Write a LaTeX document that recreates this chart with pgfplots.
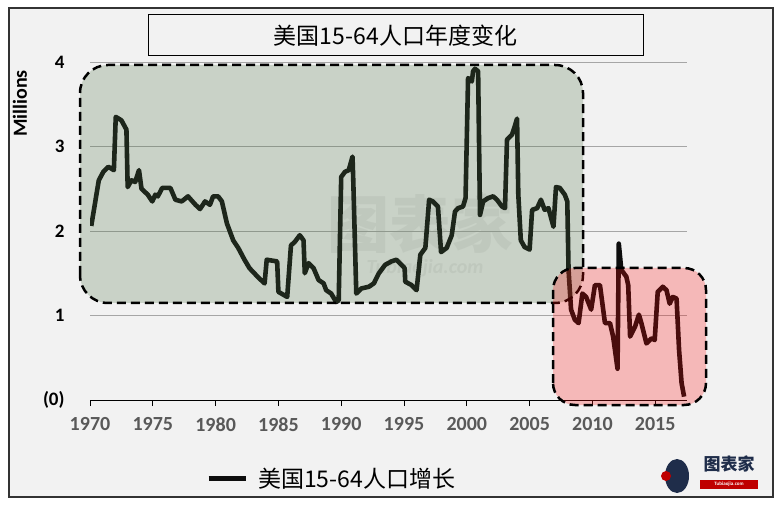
\documentclass[border=0pt]{standalone}
\usepackage{fontspec}
\setmainfont{Carlito}
\newfontfamily\cjk{Noto Sans CJK SC}
\usepackage{pgfplots}
\pgfplotsset{compat=1.18}
\definecolor{bggray}{HTML}{F2F2F2}
\definecolor{gridgray}{HTML}{A6A6A6}
\definecolor{boxgreen}{RGB}{80,115,72}
\definecolor{boxred}{RGB}{255,14,14}
\definecolor{ticklab}{HTML}{595959}
\definecolor{logoblue}{HTML}{1F2D4A}

% working-age population, annual change (millions)
\pgfplotstableread{
year val
1970.1 2.06
1970.7 2.60
1971.06 2.70
1971.46 2.76
1971.9 2.72
1972.05 3.35
1972.5 3.31
1972.9 3.20
1973.0 2.52
1973.3 2.60
1973.6 2.58
1973.9 2.72
1974.1 2.50
1974.6 2.43
1974.96 2.35
1975.2 2.43
1975.4 2.41
1975.75 2.51
1976.4 2.51
1976.8 2.37
1977.3 2.35
1977.8 2.41
1978.4 2.31
1978.76 2.26
1979.16 2.35
1979.55 2.31
1979.8 2.41
1980.2 2.41
1980.5 2.35
1980.9 2.09
1981.4 1.89
1981.8 1.80
1982.3 1.66
1982.7 1.56
1983.4 1.45
1983.9 1.38
1984.07 1.66
1984.9 1.64
1985.0 1.28
1985.7 1.22
1986.0 1.83
1986.3 1.87
1986.7 1.95
1987.0 1.89
1987.1 1.50
1987.4 1.62
1987.8 1.56
1988.2 1.42
1988.6 1.38
1988.8 1.30
1989.2 1.26
1989.6 1.16
1989.8 1.18
1990.0 2.64
1990.3 2.70
1990.6 2.72
1990.9 2.88
1990.96 2.60
1991.2 1.26
1991.6 1.32
1992.2 1.34
1992.6 1.38
1993.0 1.50
1993.5 1.60
1994.0 1.64
1994.4 1.66
1994.8 1.60
1995.05 1.56
1995.1 1.40
1995.6 1.36
1996.0 1.30
1996.3 1.72
1996.7 1.80
1997.0 2.37
1997.3 2.35
1997.7 2.29
1997.95 1.75
1998.4 1.80
1998.8 1.95
1999.06 2.23
1999.3 2.27
1999.7 2.29
1999.9 2.39
2000.1 3.81
2000.4 3.77
2000.5 3.89
2000.65 3.92
2000.9 3.89
2001.05 2.19
2001.3 2.35
2001.7 2.39
2002.1 2.41
2002.4 2.37
2002.8 2.29
2003.04 2.27
2003.2 3.08
2003.6 3.14
2003.8 3.23
2004.0 3.33
2004.1 2.43
2004.3 1.89
2004.6 1.81
2005.0 1.78
2005.2 2.25
2005.6 2.27
2005.9 2.37
2006.2 2.25
2006.5 2.27
2006.9 2.05
2007.1 2.52
2007.4 2.51
2007.8 2.43
2008.0 2.35
2008.1 1.54
2008.3 1.07
2008.6 0.95
2008.9 0.91
2009.2 1.26
2009.5 1.22
2009.9 1.07
2010.2 1.36
2010.6 1.36
2011.0 0.91
2011.4 0.91
2011.65 0.75
2012.0 0.37
2012.1 1.85
2012.3 1.54
2012.7 1.46
2012.85 1.36
2013.0 0.75
2013.4 0.87
2013.7 1.01
2013.9 0.91
2014.3 0.67
2014.7 0.73
2014.96 0.71
2015.2 1.28
2015.6 1.34
2015.9 1.30
2016.15 1.14
2016.4 1.22
2016.7 1.20
2016.9 0.59
2017.1 0.20
2017.3 0.04
}\popdata

\begin{document}
\begin{tikzpicture}[x=1pt,y=1pt]
\useasboundingbox (0,0) rectangle (783,506);
\fill[white] (0,0) rectangle (783,506);
\fill[bggray] (9,9) rectangle (773,498);
\draw[black!80, line width=2pt] (9,9) rectangle (773,498);

% title box
\draw[black, line width=1pt] (148,450) rectangle (643,491);
\node[font=\cjk\fontsize{23}{26}\selectfont] at (395.5,470.5) {美国15-64人口年度变化};
\node[rotate=90, font=\bfseries\fontsize{20}{22}\selectfont] at (20,402.5) {Millions};

% faint watermark
\node[font=\cjk\bfseries\fontsize{62}{62}\selectfont, text=gray, opacity=0.11] at (420,282) {图表家};
\node[font=\bfseries\itshape\fontsize{20}{20}\selectfont, text=gray, opacity=0.11] at (425,238) {Tubiaojia.com};

\begin{axis}[
  at={(90pt,106pt)}, anchor=south west,
  scale only axis, width=596.6pt, height=338pt,
  xmin=1970, xmax=2017.5, ymin=0, ymax=4,
  axis x line*=bottom, axis y line*=left,
  y axis line style={draw=none},
  x axis line style={black, line width=0.8pt},
  xtick={1970,1975,...,2015},
  ytick={0,1,2,3,4},
  yticklabels={(0),1,2,3,4},
  xticklabel={\pgfmathprintnumber[1000 sep={}]{\tick}},
  /pgf/number format/assume math mode=true,
  tick align=outside,
  major tick length=6pt,
  xtick style={black, line width=0.8pt},
  ytick style={draw=none},
  ymajorgrids,
  grid style={gridgray, line width=0.9pt},
  xticklabel style={font=\bfseries\fontsize{20}{22}\selectfont, text=ticklab, yshift=-8pt},
  yticklabel style={font=\bfseries\fontsize{19}{21}\selectfont, text=black, xshift=-16pt},
  legend style={at={(axis description cs:0.405,-0.231)}, anchor=center,
    draw=none, fill=none, font=\cjk\fontsize{23}{26}\selectfont},
  legend image code/.code={\draw[#1, line width=5pt] (0pt,0pt) -- (37pt,0pt);},
]
\addplot[color=black!95, line width=4.6pt, line join=round, no markers] table[x=year, y=val] {\popdata};
\addlegendentry{\kern8pt 美国15-64人口增长}
\end{axis}

% highlight boxes
\fill[boxgreen, fill opacity=0.25, rounded corners=28pt] (80,203) rectangle (583,441);
\draw[black, line width=2.5pt, dash pattern=on 9pt off 5pt, rounded corners=28pt] (80,203) rectangle (583,441);
\fill[boxred, fill opacity=0.25, rounded corners=22pt] (553,101) rectangle (706,238);
\draw[black, line width=2.5pt, dash pattern=on 9pt off 5pt, rounded corners=22pt] (553,101) rectangle (706,238);

% logo
\fill[logoblue] (677,30) ellipse (12 and 17);
\fill[red!75!black] (666,30) circle (5);
\node[font=\cjk\bfseries\fontsize{17}{18}\selectfont, text=logoblue] at (729,42) {图表家};
\fill[red!75!black] (700,17) rectangle (758,26);
\node[white, font=\bfseries\fontsize{5}{6}\selectfont] at (729,21.5) {Tubiaojia.com};
\end{tikzpicture}
\end{document}
